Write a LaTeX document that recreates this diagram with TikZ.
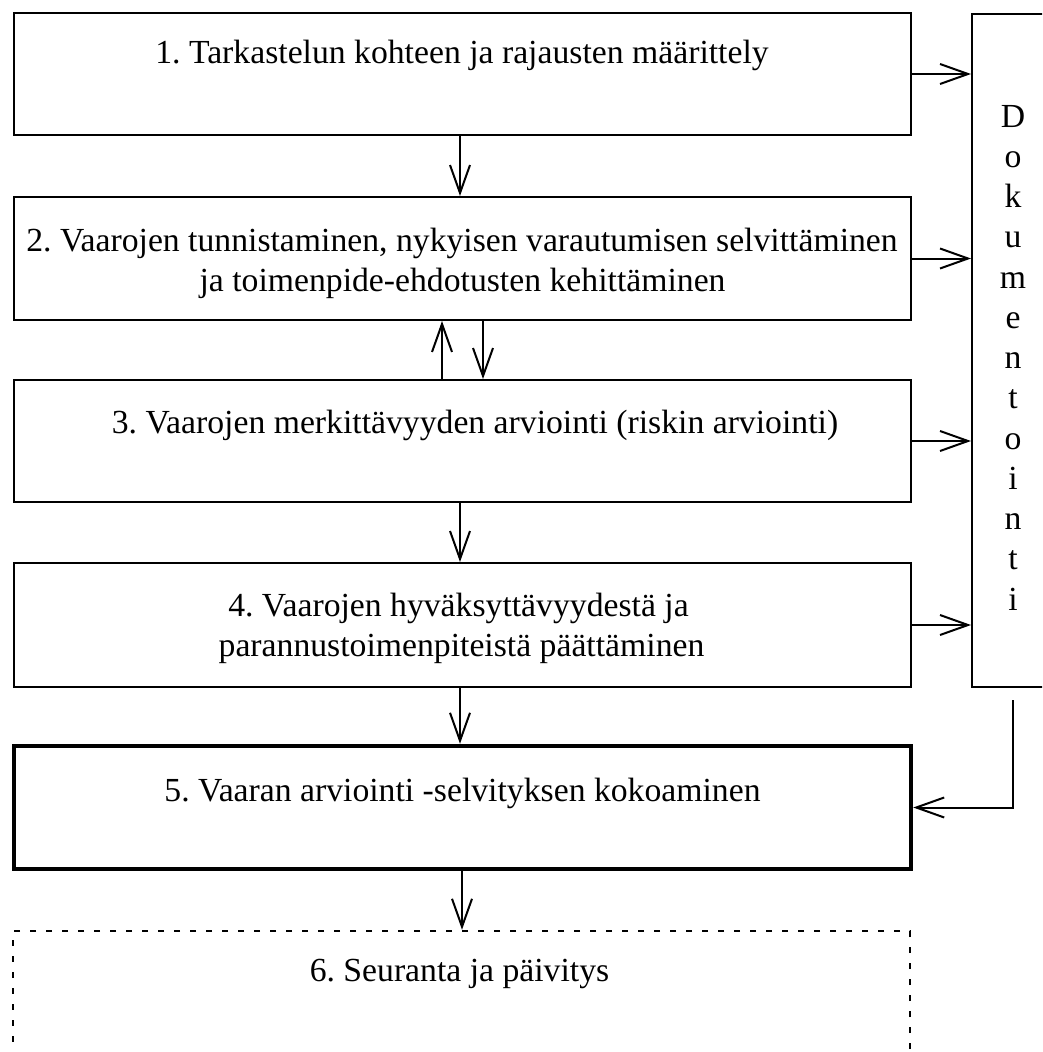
\documentclass[tikz,border=0pt]{standalone}
\usepackage{fontspec}
\setmainfont{Liberation Serif}
\usetikzlibrary{arrows.meta}
\frenchspacing
\begin{document}
\frenchspacing
\begin{tikzpicture}[x=1pt,y=-1pt,
  box/.style={draw, line width=2pt, inner sep=0pt, minimum width=897pt},
  lbl/.style={anchor=base, inner sep=0pt, font=\fontsize{33.7}{40.3}\selectfont\frenchspacing},
  arr/.style={line width=2pt, -{Straight Barb[length=28pt,width=20pt,line width=2pt]}},
]
\useasboundingbox (0,0) rectangle (1042,1052);
\clip (0,0) rectangle (1042,1052);
% boxes
\node[box, minimum height=122pt] (b1) at (462.5,74) {};
\node[box, minimum height=123pt] (b2) at (462.5,258.5) {};
\node[box, minimum height=122pt] (b3) at (462.5,441) {};
\node[box, minimum height=124pt] (b4) at (462.5,625) {};
\node[box, line width=4.5pt, minimum height=123pt] (b5) at (462.5,807.5) {};
\node[box, line width=2.5pt, dash pattern=on 6pt off 10pt, minimum height=149pt] (b6) at (461.5,1005.5) {};
\node[draw, line width=2pt, inner sep=0pt, minimum width=88pt, minimum height=673pt] (doc) at (1016,350.5) {};
% texts
\node[lbl] (t1) at (462,63) {1. Tarkastelun kohteen ja rajausten määrittely};
\node[lbl] (t2a) at (462,251) {2. Vaarojen tunnistaminen, nykyisen varautumisen selvittäminen};
\node[lbl] (t2b) at (462.5,291) {ja toimenpide-ehdotusten kehittäminen};
\node[lbl] (t3) at (475,433) {3. Vaarojen merkittävyyden arviointi (riskin arviointi)};
\node[lbl] (t4a) at (458.5,616) {4. Vaarojen hyväksyttävyydestä ja};
\node[lbl] (t4b) at (461.5,656) {parannustoimenpiteistä päättäminen};
\node[lbl] (t5) at (462.5,801) {5. Vaaran arviointi -selvityksen kokoaminen};
\node[lbl] (t6) at (459.5,981) {6. Seuranta ja päivitys};
\foreach \l [count=\i] in {D,o,k,u,m,e,n,t,o,i,n,t,i}
  \node[lbl] (d\i) at (1013,{127+40.25*(\i-1)}) {\l};
% helper coordinates
\coordinate (ax) at (460,0);
\coordinate (ax2) at (462,0);
\coordinate (up) at (442,0);
\coordinate (dn) at (483,0);
\coordinate (ds) at (1013,700);
% vertical arrows
\draw[arr] (b1.south -| ax) -- (b2.north -| ax);
\draw[arr] (b3.north -| up) -- (b2.south -| up);
\draw[arr] (b2.south -| dn) -- (b3.north -| dn);
\draw[arr] (b3.south -| ax) -- (b4.north -| ax);
\draw[arr] (b4.south -| ax) -- (b5.north -| ax);
\draw[arr] (b5.south -| ax2) -- (b6.north -| ax2);
% arrows to documentation
\draw[arr] (b1.east) -- (b1.east -| doc.west);
\draw[arr] (b2.east) -- (b2.east -| doc.west);
\draw[arr] (b3.east) -- (b3.east -| doc.west);
\draw[arr] (b4.east) -- (b4.east -| doc.west);
\draw[arr] (ds) |- (b5.east);
\end{tikzpicture}
\end{document}
